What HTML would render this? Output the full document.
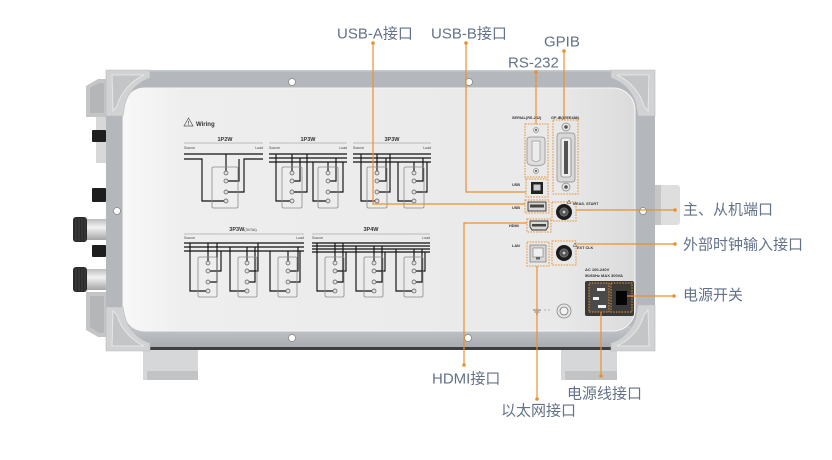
<!DOCTYPE html>
<html><head><meta charset="utf-8"><style>
html,body{margin:0;padding:0;background:#fff;}
svg{display:block;}
.lbl{font-family:"Liberation Sans","Noto Sans CJK SC",sans-serif;font-size:15px;fill:#63728a;}
.t{font-family:"Liberation Sans",sans-serif;font-weight:bold;fill:#333;}
.n{font-family:"Liberation Sans",sans-serif;fill:#444;}
.w{fill:none;stroke:#111;stroke-width:1.15;}
.bx{fill:none;stroke:#8a8a8a;stroke-width:0.8;}
.tm{fill:#e2e2e2;stroke:#555;stroke-width:0.7;}
.or{fill:none;stroke:#e8922e;stroke-width:1.2;}
.dot{fill:none;stroke:#e8922e;stroke-width:1;stroke-dasharray:1.6 1.2;}
.od{fill:#e8922e;}
.hole{fill:#fff;stroke:#8a8a8a;stroke-width:0.8;}
</style></head><body>
<svg width="832" height="460" viewBox="0 0 832 460" xmlns="http://www.w3.org/2000/svg">
<defs>
 <linearGradient id="panel" x1="0" x2="1" y1="0" y2="0">
  <stop offset="0" stop-color="#f8f8f8"/>
  <stop offset="0.12" stop-color="#eeeeee"/>
  <stop offset="0.85" stop-color="#e9e9e9"/>
  <stop offset="1" stop-color="#dbdbdb"/>
 </linearGradient>
 <linearGradient id="silver" x1="0" y1="0" x2="0" y2="1">
  <stop offset="0" stop-color="#bdbdbd"/>
  <stop offset="0.4" stop-color="#f2f2f2"/>
  <stop offset="1" stop-color="#a5a5a5"/>
 </linearGradient>
 <linearGradient id="strip" x1="0" y1="0" x2="0" y2="1">
  <stop offset="0" stop-color="#c3c6ca"/>
  <stop offset="1" stop-color="#a9acb0"/>
 </linearGradient>
</defs>

<!-- left side attachments -->
<path d="M86,86 L98,79 L106,79 V117 H86 Z" fill="#c4c5c7"/>
<path d="M90,88 L99,83 L104,83 V113 H90 Z" fill="#b5b6b8"/>
<rect x="96" y="117" width="10" height="46" fill="#d8d8d8"/>
<rect x="92" y="130" width="14" height="12" rx="1" fill="#1e1e1e"/>
<rect x="92" y="188" width="14" height="14" rx="1" fill="#1e1e1e"/>
<rect x="73" y="217" width="14" height="25" rx="3" fill="#2a2a2a"/>
<path d="M76,218 V241 M79,218 V241 M82,218 V241 M85,218 V241" stroke="#4a4a4a" stroke-width="0.8"/>
<rect x="87" y="219" width="19" height="21" fill="url(#silver)"/>
<rect x="92" y="245" width="14" height="12" rx="1" fill="#1e1e1e"/>
<rect x="73" y="267" width="14" height="25" rx="3" fill="#2a2a2a"/>
<path d="M76,268 V291 M79,268 V291 M82,268 V291 M85,268 V291" stroke="#4a4a4a" stroke-width="0.8"/>
<rect x="87" y="269" width="19" height="21" fill="url(#silver)"/>
<path d="M86,292 H106 V337 H98 L86,330 Z" fill="#c4c5c7"/>
<path d="M90,296 H104 V333 H99 L90,327 Z" fill="#b5b6b8"/>

<!-- right block -->
<rect x="650" y="185" width="30" height="40" rx="3" fill="#dedede"/>
<rect x="650" y="185" width="11" height="40" fill="#c6c6c6"/>

<!-- feet -->
<rect x="143" y="348" width="55" height="32" fill="#d6d7d9"/>
<rect x="147" y="371" width="51" height="9" rx="1" fill="#c2c3c5"/>
<rect x="561" y="348" width="56" height="32" fill="#d6d7d9"/>
<rect x="565" y="371" width="52" height="9" rx="1" fill="#c2c3c5"/>

<!-- frame -->
<rect x="106" y="70" width="549" height="280" fill="#b4b7bb"/>
<rect x="106" y="326" width="549" height="21" fill="url(#strip)"/>
<rect x="106" y="347" width="549" height="3" fill="#3e3f41"/>
<rect x="106" y="70" width="549" height="1.5" fill="#c8cbce"/>

<!-- inner panel -->
<rect x="123" y="88" width="512" height="243" rx="22" fill="url(#panel)" stroke="#f4f4f4" stroke-width="1"/>

<!-- corner pieces -->
<g transform="translate(106,70)">
 <path d="M0,0 H44 V8 C33,11 22,22 19,34 L17,46 H0 Z" fill="#d1d2d4" stroke="#b9babc" stroke-width="0.6"/>
 <path d="M6,5 H38 C27,10 15,21 11,36 L7,41 Z" fill="#c4c5c7" stroke="#ececec" stroke-width="0.8"/>
</g>
<g transform="translate(655,70) scale(-1,1)">
 <path d="M0,0 H44 V8 C33,11 22,22 19,34 L17,46 H0 Z" fill="#d1d2d4" stroke="#b9babc" stroke-width="0.6"/>
 <path d="M6,5 H38 C27,10 15,21 11,36 L7,41 Z" fill="#c4c5c7" stroke="#ececec" stroke-width="0.8"/>
</g>
<g transform="translate(106,351) scale(1,-1)">
 <path d="M0,0 H44 V8 C33,11 22,22 19,34 L17,44 H0 Z" fill="#d1d2d4" stroke="#b9babc" stroke-width="0.6"/>
 <path d="M6,5 H38 C27,10 15,21 11,36 L7,40 Z" fill="#c4c5c7" stroke="#ececec" stroke-width="0.8"/>
</g>
<g transform="translate(655,351) scale(-1,-1)">
 <path d="M0,0 H44 V8 C33,11 22,22 19,34 L17,46 H0 Z" fill="#d1d2d4" stroke="#b9babc" stroke-width="0.6"/>
 <path d="M6,5 H38 C27,10 15,21 11,36 L7,41 Z" fill="#c4c5c7" stroke="#ececec" stroke-width="0.8"/>
</g>

<!-- holes -->
<circle class="hole" cx="292" cy="82" r="3.5"/>
<circle class="hole" cx="469" cy="82" r="3.5"/>
<circle class="hole" cx="292" cy="338" r="3.5"/>
<circle class="hole" cx="468" cy="338" r="3.5"/>
<circle class="hole" cx="117" cy="211" r="3.5"/>
<circle class="hole" cx="643" cy="211" r="3.5"/>

<!-- Wiring header -->
<polygon points="188.5,118 184,126 193,126" fill="none" stroke="#555" stroke-width="0.7"/>
<text class="t" x="187.7" y="125" font-size="5">!</text>
<text class="t" x="196" y="126" font-size="6">Wiring</text>

<!-- 1P2W -->
<text class="t" x="225" y="141" font-size="5.5" text-anchor="middle">1P2W</text>
<line x1="184" y1="143" x2="263" y2="143" stroke="#aaa" stroke-width="0.8"/>
<text class="n" x="184" y="149" font-size="3.5">Source</text>
<text class="n" x="263" y="149" font-size="3.5" text-anchor="end">Load</text>
<path class="w" d="M184,154 H263 M184,159 H202 V201 H224 M228,192 H244 V159 H263 M226,154 V171 M228,181 H239 V159"/>
<rect class="bx" x="212" y="167" width="26" height="41" rx="1.5"/>
<circle class="tm" cx="226" cy="173" r="2"/><circle class="tm" cx="226" cy="181" r="2"/><circle class="tm" cx="226" cy="192" r="2"/><circle class="tm" cx="226" cy="201" r="2"/>

<!-- 1P3W -->
<text class="t" x="308" y="141" font-size="5.5" text-anchor="middle">1P3W</text>
<line x1="269" y1="143" x2="347" y2="143" stroke="#aaa" stroke-width="0.8"/>
<text class="n" x="269" y="149" font-size="3.5">Source</text>
<text class="n" x="347" y="149" font-size="3.5" text-anchor="end">Load</text>
<path class="w" d="M269,154 H347 M269,158 H347 M269,162 H347 M292,154 V171 M294,181 H300 V158 M276,154 V201 H290 M294,192 H307 V154 M328,162 V171 M330,181 H336 V158 M313,162 V201 H326 M330,192 H343 V162"/>
<rect class="bx" x="282" y="167" width="20" height="41" rx="1.5"/>
<rect class="bx" x="318" y="167" width="20" height="41" rx="1.5"/>
<circle class="tm" cx="292" cy="173" r="2"/><circle class="tm" cx="292" cy="181" r="2"/><circle class="tm" cx="292" cy="192" r="2"/><circle class="tm" cx="292" cy="201" r="2"/>
<circle class="tm" cx="328" cy="173" r="2"/><circle class="tm" cx="328" cy="181" r="2"/><circle class="tm" cx="328" cy="192" r="2"/><circle class="tm" cx="328" cy="201" r="2"/>

<!-- 3P3W row1 -->
<text class="t" x="392" y="141" font-size="5.5" text-anchor="middle">3P3W</text>
<line x1="353" y1="143" x2="431" y2="143" stroke="#aaa" stroke-width="0.8"/>
<text class="n" x="353" y="149" font-size="3.5">Source</text>
<text class="n" x="431" y="149" font-size="3.5" text-anchor="end">Load</text>
<path class="w" d="M353,154 H431 M353,158 H431 M353,162 H431 M377,154 V171 M379,181 H386 V158 M361,154 V201 H375 M379,192 H390 V154 M414,162 V171 M416,181 H423 V158 M398,162 V201 H412 M416,192 H427 V162"/>
<rect class="bx" x="367" y="167" width="20" height="41" rx="1.5"/>
<rect class="bx" x="404" y="167" width="20" height="41" rx="1.5"/>
<circle class="tm" cx="377" cy="173" r="2"/><circle class="tm" cx="377" cy="181" r="2"/><circle class="tm" cx="377" cy="192" r="2"/><circle class="tm" cx="377" cy="201" r="2"/>
<circle class="tm" cx="414" cy="173" r="2"/><circle class="tm" cx="414" cy="181" r="2"/><circle class="tm" cx="414" cy="192" r="2"/><circle class="tm" cx="414" cy="201" r="2"/>

<!-- 3P3W(3V3A) -->
<text class="t" x="243" y="231" font-size="5.5" text-anchor="middle">3P3W<tspan class="n" font-weight="normal" font-size="4">(3V3A)</tspan></text>
<line x1="184" y1="234" x2="304" y2="234" stroke="#aaa" stroke-width="0.8"/>
<text class="n" x="184" y="239" font-size="3.5">Source</text>
<text class="n" x="304" y="239" font-size="3.5" text-anchor="end">Load</text>
<path class="w" d="M184,243 H304 M184,247 H304 M184,251 H304 M208,243 V261 M210,271 H221 V251 M190,243 V291 H206 M210,282 H217 V243 M247,247 V261 M249,271 H258 V243 M230,247 V291 H245 M249,282 H255 V247 M288,251 V261 M290,271 H298 V247 M270,251 V291 H286 M290,282 H300 V251"/>
<rect class="bx" x="198" y="257" width="19" height="40" rx="1.5"/>
<rect class="bx" x="238" y="257" width="19" height="40" rx="1.5"/>
<rect class="bx" x="278" y="257" width="19" height="40" rx="1.5"/>
<circle class="tm" cx="208" cy="263" r="2"/><circle class="tm" cx="208" cy="271" r="2"/><circle class="tm" cx="208" cy="282" r="2"/><circle class="tm" cx="208" cy="291" r="2"/>
<circle class="tm" cx="247" cy="263" r="2"/><circle class="tm" cx="247" cy="271" r="2"/><circle class="tm" cx="247" cy="282" r="2"/><circle class="tm" cx="247" cy="291" r="2"/>
<circle class="tm" cx="288" cy="263" r="2"/><circle class="tm" cx="288" cy="271" r="2"/><circle class="tm" cx="288" cy="282" r="2"/><circle class="tm" cx="288" cy="291" r="2"/>

<!-- 3P4W -->
<text class="t" x="371" y="231" font-size="5.5" text-anchor="middle">3P4W</text>
<line x1="312" y1="234" x2="430" y2="234" stroke="#aaa" stroke-width="0.8"/>
<text class="n" x="312" y="239" font-size="3.5">Source</text>
<text class="n" x="430" y="239" font-size="3.5" text-anchor="end">Load</text>
<path class="w" d="M312,243 H430 M312,246 H430 M312,249 H430 M312,252 H430 M335,243 V261 M337,271 H346 V252 M317,243 V291 H333 M337,282 H343 V243 M374,246 V261 M376,271 H385 V252 M356,246 V291 H372 M376,282 H382 V246 M414,249 V261 M416,271 H425 V252 M396,249 V291 H412 M416,282 H422 V249"/>
<rect class="bx" x="325" y="257" width="19" height="40" rx="1.5"/>
<rect class="bx" x="364" y="257" width="19" height="40" rx="1.5"/>
<rect class="bx" x="404" y="257" width="19" height="40" rx="1.5"/>
<circle class="tm" cx="335" cy="263" r="2"/><circle class="tm" cx="335" cy="271" r="2"/><circle class="tm" cx="335" cy="282" r="2"/><circle class="tm" cx="335" cy="291" r="2"/>
<circle class="tm" cx="374" cy="263" r="2"/><circle class="tm" cx="374" cy="271" r="2"/><circle class="tm" cx="374" cy="282" r="2"/><circle class="tm" cx="374" cy="291" r="2"/>
<circle class="tm" cx="414" cy="263" r="2"/><circle class="tm" cx="414" cy="271" r="2"/><circle class="tm" cx="414" cy="282" r="2"/><circle class="tm" cx="414" cy="291" r="2"/>

<!-- port labels -->
<text class="t" x="512" y="119" font-size="3.8">SERIAL(RS-232)</text>
<text class="t" x="551" y="119" font-size="3.8">GP-IB(IEEE488)</text>
<text class="t" x="512" y="186" font-size="3.8">USB</text>
<text class="t" x="512" y="209" font-size="3.8">USB</text>
<text class="t" x="509" y="227" font-size="3.8">HDMI</text>
<text class="t" x="512" y="247" font-size="3.8">LAN</text>
<text class="t" x="573" y="205" font-size="3.8">MEAS. START</text>
<text class="t" x="577" y="249" font-size="3.8">EXT CLK</text>
<text class="t" x="585" y="271" font-size="4">AC 100-240V</text>
<text class="t" x="585" y="277" font-size="4">50/60Hz MAX 300VA</text>

<!-- serial DB9 -->
<circle cx="536" cy="130" r="2.6" fill="#ddd" stroke="#888" stroke-width="0.6"/>
<circle cx="536" cy="130" r="0.9" fill="#333"/>
<path d="M530,137 H542 Q545,137 545,140 V161 Q545,164 542,165 L536,166 L530,165 Q527,164 527,161 V140 Q527,137 530,137 Z" fill="#dedede" stroke="#8a8a8a" stroke-width="0.7"/>
<path d="M532,141 H540 V160 L536,162 L532,160 Z" fill="#ececec" stroke="#777" stroke-width="0.5"/>
<circle cx="536" cy="171" r="2.6" fill="#ddd" stroke="#888" stroke-width="0.6"/>
<circle cx="536" cy="171" r="0.9" fill="#333"/>
<rect class="dot" x="525" y="124" width="23" height="53"/>

<!-- GPIB -->
<circle cx="566" cy="127" r="4" fill="#e4e4e4" stroke="#888" stroke-width="0.7"/>
<circle cx="566" cy="127" r="1.8" fill="#555"/>
<rect x="557" y="133" width="18" height="49" rx="3" fill="#d8d8d8" stroke="#888" stroke-width="0.7"/>
<rect x="561" y="138" width="10" height="39" rx="2" fill="#eeeeee" stroke="#666" stroke-width="0.6"/>
<rect x="564" y="141" width="4" height="33" fill="#555"/>
<circle cx="566" cy="187" r="4" fill="#e4e4e4" stroke="#888" stroke-width="0.7"/>
<circle cx="566" cy="187" r="1.8" fill="#555"/>
<rect class="dot" x="553" y="120" width="25" height="74"/>

<!-- USB-B -->
<rect x="531" y="182" width="12" height="12" fill="#222"/>
<rect x="533.5" y="184.5" width="7" height="6" fill="#ccc"/>
<rect class="dot" x="526" y="179" width="22" height="18"/>

<!-- USB-A -->
<rect x="528" y="202" width="18" height="9" fill="#d9d9d9" stroke="#333" stroke-width="0.9"/>
<rect x="530" y="204.5" width="14" height="3" fill="#444"/>
<rect class="dot" x="525" y="200" width="24" height="13"/>

<!-- HDMI -->
<path d="M530,221 H548 V227 L546,230 H532 L530,227 Z" fill="#d9d9d9" stroke="#333" stroke-width="0.9"/>
<rect x="532" y="224" width="14" height="2.5" fill="#444"/>
<rect class="dot" x="527" y="219" width="24" height="13"/>

<!-- LAN -->
<rect x="530" y="245" width="16" height="17" fill="#d6d6d6" stroke="#777" stroke-width="0.7"/>
<rect x="533" y="248" width="10" height="9" fill="#f0f0f0" stroke="#666" stroke-width="0.5"/>
<rect x="536" y="257" width="4" height="2.5" fill="#666"/>
<rect class="dot" x="527" y="242" width="22" height="24"/>

<!-- MEAS START BNC -->
<circle cx="564" cy="212" r="8" fill="#1c1c1c"/>
<circle cx="564" cy="212" r="4.2" fill="#555" stroke="#888" stroke-width="0.6"/>
<circle cx="564" cy="212" r="1.4" fill="#ccc"/>
<rect class="dot" x="552" y="202" width="24" height="19"/>
<polygon points="569,200 567,203.5 571,203.5" fill="none" stroke="#444" stroke-width="0.5"/>

<!-- EXT CLK BNC -->
<circle cx="564" cy="253" r="8" fill="#1c1c1c"/>
<circle cx="564" cy="253" r="4.2" fill="#555" stroke="#888" stroke-width="0.6"/>
<circle cx="564" cy="253" r="1.4" fill="#ccc"/>
<rect class="dot" x="552" y="241" width="24" height="24"/>
<polygon points="575,243 573,246.5 577,246.5" fill="none" stroke="#444" stroke-width="0.5"/>
<circle cx="587" cy="239" r="3" fill="none" stroke="#e2e2e2" stroke-width="1"/>

<!-- power module -->
<rect x="585" y="281" width="49" height="35" rx="2" fill="#3a3a3b"/>
<rect x="589" y="283" width="20" height="29" fill="#4a4a4b"/>
<rect x="597" y="288" width="8" height="3" fill="#f2f2f2"/>
<rect x="593" y="297" width="6" height="3" fill="#f2f2f2"/>
<rect x="598" y="305" width="8" height="3" fill="#f2f2f2"/>
<rect class="dot" x="589" y="283" width="20" height="29"/>
<rect x="616" y="291" width="11" height="14" fill="#050505"/>
<rect class="dot" x="611" y="283" width="21" height="29"/>

<!-- ground -->
<path d="M537,304 V310 M533,310 H541 M534.5,312 H539.5 M536,314 H538" stroke="#555" stroke-width="0.7" fill="none"/>
<path d="M544,310 H546 M548,310 H550" stroke="#777" stroke-width="0.6"/>
<circle cx="564" cy="311" r="7" fill="#e6e6e6" stroke="#8a8a8a" stroke-width="0.8"/>
<circle cx="564" cy="311" r="4" fill="#f2f2f2" stroke="#777" stroke-width="0.8"/>

<!-- orange leader lines -->
<path class="or" d="M373,43 V204 H525"/>
<path class="or" d="M466,43 V192 H526"/>
<path class="or" d="M536,72 V124"/>
<path class="or" d="M564,51 V120"/>
<path class="or" d="M576,210 H675"/>
<path class="or" d="M577,244 H675"/>
<path class="or" d="M627,296 H674"/>
<path class="or" d="M527,223 H464 V365"/>
<path class="or" d="M537,266 V399"/>
<path class="or" d="M601,312 V376"/>
<circle class="od" cx="373" cy="43" r="1.8"/>
<circle class="od" cx="466" cy="43" r="1.8"/>
<circle class="od" cx="536" cy="72" r="1.8"/>
<circle class="od" cx="564" cy="51" r="1.8"/>
<circle class="od" cx="675" cy="210" r="1.8"/>
<circle class="od" cx="675" cy="244" r="1.8"/>
<circle class="od" cx="674" cy="296" r="1.8"/>
<circle class="od" cx="464" cy="365" r="1.8"/>
<circle class="od" cx="537" cy="399" r="1.8"/>
<circle class="od" cx="601" cy="376" r="1.8"/>

<!-- labels -->
<text class="lbl" x="337" y="38.5">USB-A接口</text>
<text class="lbl" x="431" y="38.5">USB-B接口</text>
<text class="lbl" x="544" y="46.5">GPIB</text>
<text class="lbl" x="508" y="67.5">RS-232</text>
<text class="lbl" x="683" y="214.5">主、从机端口</text>
<text class="lbl" x="683" y="249.5">外部时钟输入接口</text>
<text class="lbl" x="683" y="300">电源开关</text>
<text class="lbl" x="432" y="383.5">HDMI接口</text>
<text class="lbl" x="501" y="415.5">以太网接口</text>
<text class="lbl" x="567" y="398.5">电源线接口</text>
</svg>
</body></html>
